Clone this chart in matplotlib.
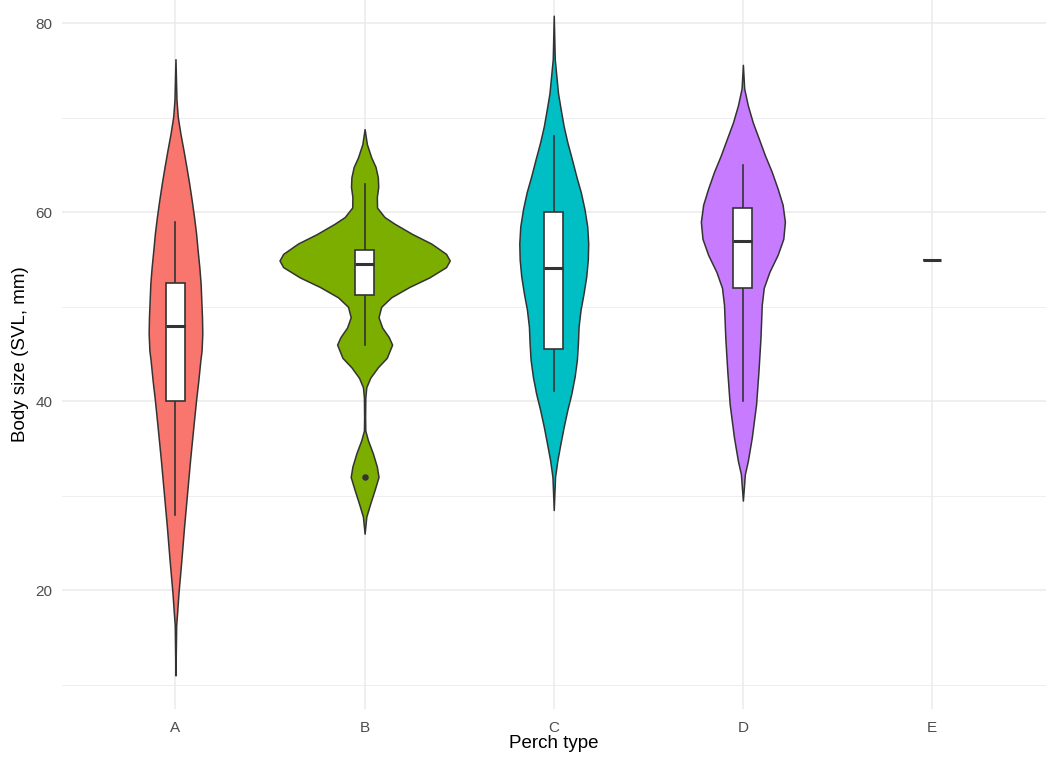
import matplotlib
matplotlib.use('Agg')
import matplotlib.pyplot as plt
from matplotlib.patches import Rectangle
import numpy as np

plt.rcParams['font.family'] = ['Liberation Sans', 'DejaVu Sans']

categories = ['A', 'B', 'C', 'D', 'E']
fill_colors = ['#F8766D', '#7CAE00', '#00BFC4', '#C77CFF', None]

# violin outlines: body size (mm) and relative density
a_size = [76.2, 71.9, 70.1, 68.3, 66.6, 64.8, 63.1, 61.3, 59.5, 57.8, 56.0, 54.2,
          52.5, 50.7, 48.9, 47.2, 45.4, 44.3, 42.2, 40.1, 37.3, 33.8, 30.3, 26.8,
          23.3, 19.7, 17.7, 16.3, 11.0]
a_density = [0, 1, 2.3, 5, 8, 11, 13.7, 16.3, 18.7, 20.7, 22.3, 24,
             25.3, 26, 26.7, 27, 26.3, 25, 23, 20.7, 18, 14.7, 11.7, 8.7,
             6, 3, 1.7, 0.7, 0]

b_size = [68.8, 67.2, 65.8, 64.8, 63.7, 62.7, 61.6, 60.5, 59.5, 58.8, 57.7, 56.7,
          55.6, 54.9, 54.2, 53.1, 52.1, 51.0, 50.0, 48.9, 47.8, 46.8, 46.0, 44.6,
          43.6, 42.5, 41.5, 40.4, 38.3, 36.9, 35.9, 34.5, 33.1, 32.0, 30.6, 29.2,
          27.8, 26.0]
b_density = [0, 2.3, 6.7, 11, 13.3, 13.7, 12.3, 12.5, 20, 30, 48, 67,
             82, 85.7, 82, 65, 45, 26.7, 16.7, 14, 17.7, 24.3, 27.7, 22.3,
             13.3, 5.7, 1.7, 0.7, 0.5, 0.7, 3.3, 8.3, 12.3, 14, 10, 5.7,
             1.7, 0]

c_size = [80.8, 76.2, 72.6, 70.9, 69.1, 67.4, 65.6, 63.8, 62.1, 60.3, 58.5, 56.7,
          55.0, 53.2, 51.4, 49.7, 47.9, 46.1, 44.4, 42.6, 40.8, 39.1, 37.3, 35.5,
          33.8, 32.0, 28.5]
c_density = [0, 1, 4.3, 7, 10, 13.7, 18.3, 22.7, 27.3, 31, 33.7, 34.7,
             34.3, 32.7, 30, 27, 25, 24.3, 23.3, 21, 17.7, 13.7, 10, 6.7,
             3.7, 1.3, 0]

d_size = [75.6, 73.1, 71.3, 69.5, 67.8, 66.0, 64.3, 62.5, 60.8, 59.0, 57.2, 55.5,
          53.7, 52.0, 50.2, 46.7, 43.2, 39.7, 36.2, 33.7, 32.3, 29.5]
d_density = [0, 1.3, 5, 10, 16, 22.3, 29, 35, 40, 42.3, 40.7, 35,
             26.7, 21, 19, 17.7, 15.7, 13.3, 9, 5, 2, 0]

violin_sizes = [a_size, b_size, c_size, d_size, None]
violin_density = [a_density, b_density, c_density, d_density, None]

# boxplot statistics per perch type
q1 = [40.0, 51.2, 45.5, 52.0, 55.0]
median = [48.0, 54.5, 54.1, 57.0, 55.0]
q3 = [52.5, 56.0, 60.0, 60.5, 55.0]
whisker_lo = [28.0, 46.0, 41.1, 40.0, 55.0]
whisker_hi = [59.0, 63.0, 68.1, 65.0, 55.0]
outliers = [[], [32.0], [], [], []]

line_col = '#333333'
grid_col = '#EBEBEB'

fig = plt.figure(figsize=(10.57, 7.66), dpi=100)
ax = fig.add_axes([62 / 1057, (766 - 709) / 766, (1045.5 - 62) / 1057, 709 / 766])

ax.set_xlim(0.4, 5.6)
ax.set_ylim(7.45, 82.46)

ax.set_yticks([20, 40, 60, 80])
ax.set_yticks([10, 30, 50, 70], minor=True)
ax.set_xticks(range(1, 6))
ax.set_xticklabels(categories)
ax.grid(True, which='major', color=grid_col, linewidth=1.1)
ax.grid(True, which='minor', axis='y', color=grid_col, linewidth=0.6)
ax.set_axisbelow(True)
for s in ax.spines.values():
    s.set_visible(False)
ax.tick_params(which='both', length=0)
ax.tick_params(axis='y', labelsize=11, labelcolor='#4D4D4D', pad=7)
ax.tick_params(axis='x', labelsize=11, labelcolor='#4D4D4D', pad=9)

dmax = max(max(d) for d in violin_density if d is not None)
box_half = 0.05

for i, cat in enumerate(categories):
    x = i + 1
    if violin_sizes[i] is not None:
        y = np.array(violin_sizes[i])
        w = np.array(violin_density[i]) / dmax * 0.45
        ax.fill_betweenx(y, x - w, x + w, facecolor=fill_colors[i],
                         edgecolor=line_col, linewidth=1.1, zorder=2)
    # whiskers
    ax.plot([x, x], [q3[i], whisker_hi[i]], color=line_col, lw=1.2, zorder=3)
    ax.plot([x, x], [whisker_lo[i], q1[i]], color=line_col, lw=1.2, zorder=3)
    ax.add_patch(Rectangle((x - box_half, q1[i]), 2 * box_half, q3[i] - q1[i],
                           facecolor='white', edgecolor=line_col, lw=1.2, zorder=4))
    ax.plot([x - box_half, x + box_half], [median[i], median[i]],
            color=line_col, lw=2.2, solid_capstyle='butt', zorder=5)
    if outliers[i]:
        ax.scatter([x] * len(outliers[i]), outliers[i], s=22, color=line_col,
                   zorder=5, linewidths=0)

ax.set_xlabel('Perch type', fontsize=13.5)
ax.set_ylabel('Body size (SVL, mm)', fontsize=13.5)
ax.xaxis.set_label_coords(0.5, -0.037)
ax.yaxis.set_label_coords(-0.034, 0.5)

fig.savefig('out.png', dpi=100)
